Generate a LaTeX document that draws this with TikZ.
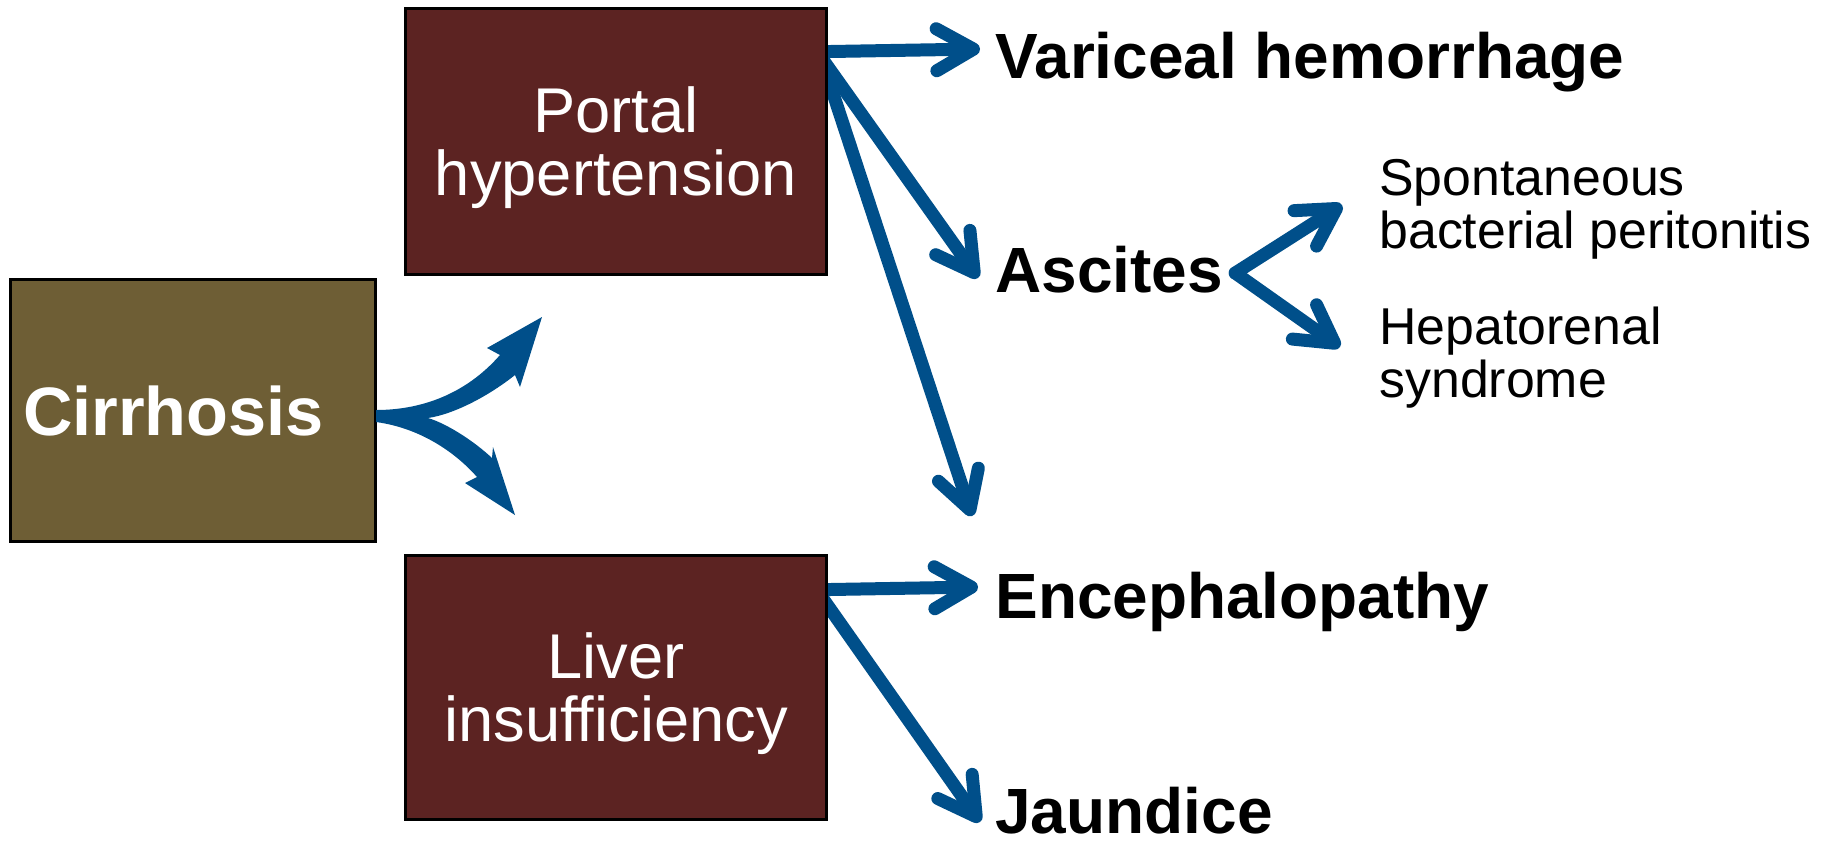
\documentclass[tikz,border=0pt]{standalone}
\usepackage{fontspec}
\setmainfont{Liberation Sans}
\usetikzlibrary{arrows.meta,calc,backgrounds}
\definecolor{cirrfill}{RGB}{110,94,53}
\definecolor{boxfill}{RGB}{92,35,34}
\definecolor{arrowblue}{RGB}{0,79,138}
\begin{document}
\begin{tikzpicture}[x=0.02cm,y=-0.02cm,
    box/.style={draw=black,line width=0.06cm,fill=boxfill,text=white,align=center,
      minimum width=8.44cm,minimum height=5.34cm,inner sep=0,
      font=\fontsize{36}{36}\selectfont},
    outcome/.style={anchor=base west,inner sep=0,font=\bfseries\fontsize{36.4}{36}\selectfont},
    sub/.style={anchor=west,inner sep=0,align=left,font=\fontsize{29.5}{30.2}\selectfont},
    link/.style={draw=arrowblue,line width=0.26cm,
      -{Straight Barb[length=0.74cm,width=0.84cm,line cap=round,line join=round]}}]
    \useasboundingbox (0,0) rectangle (1831,843);

    % Boxes
    \node[box,fill=cirrfill,minimum width=7.32cm,minimum height=5.26cm,
      text width=6.8cm,align=left,inner xsep=0.26cm,
      font=\bfseries\fontsize{39}{40}\selectfont] (cirr) at (193,410.5) {Cirrhosis};
    \node[box] (portal) at (616,141.5) {\rule{0pt}{1.16cm}Portal\\hypertension};
    \node[box,minimum height=5.3cm] (liver) at (616,687.5) {\rule{0pt}{1.16cm}Liver\\insufficiency};

    % Fork out of the cirrhosis box
    \fill[arrowblue] (376,410) .. controls (420,410) and (465,395) .. (500,355)
      -- (487,348) -- (542,317) -- (520,387) -- (515,375)
      .. controls (490,395) and (455,414) .. (428,418)
      .. controls (448,424) and (475,442) .. (492,458)
      -- (493,447) -- (515,515) -- (465,483) -- (477,477)
      .. controls (455,452) and (420,428) .. (376,422) -- cycle;

    % Outcomes
    \node[outcome] (vari) at (995,78) {Variceal hemorrhage};
    \node[outcome] (asc) at (995,292) {Ascites};
    \node[outcome] (ence) at (995,618) {Encephalopathy};
    \node[outcome] (jaun) at (995,833) {Jaundice};
    \node[sub] (sbp) at (1379,209) {Spontaneous\\bacterial peritonitis};
    \node[sub] (hrs) at (1379,357.5) {Hepatorenal\\syndrome};

    % Connectors, started behind the boxes
    \begin{scope}[on background layer]
      \draw[link,shorten <=-0.3cm] ($(portal.north east)+(0,45)$) -- ($(vari.base west)+(-15,-29)$);
      \draw[link,shorten <=-0.3cm] ($(portal.north east)+(0,61)$) -- ($(asc.base west)+(-17,-14)$);
      \draw[link,shorten <=-0.3cm] ($(portal.north east)+(0,73)$) -- ($(ence.base west)+(-23,-102)$);
      \draw[link,shorten <=-0.3cm] ($(liver.north east)+(0,36)$) -- ($(ence.base west)+(-17,-31)$);
      \draw[link,shorten <=-0.3cm] ($(liver.north east)+(0,53)$) -- ($(jaun.base west)+(-15,-11)$);
    \end{scope}
    \draw[link,line cap=round] ($(asc.base east)+(12,-19)$) -- ($(sbp.west)+(-37,-4)$);
    \draw[link,line cap=round] ($(asc.base east)+(12,-19)$) -- ($(hrs.west)+(-39,-10.5)$);
\end{tikzpicture}
\end{document}
